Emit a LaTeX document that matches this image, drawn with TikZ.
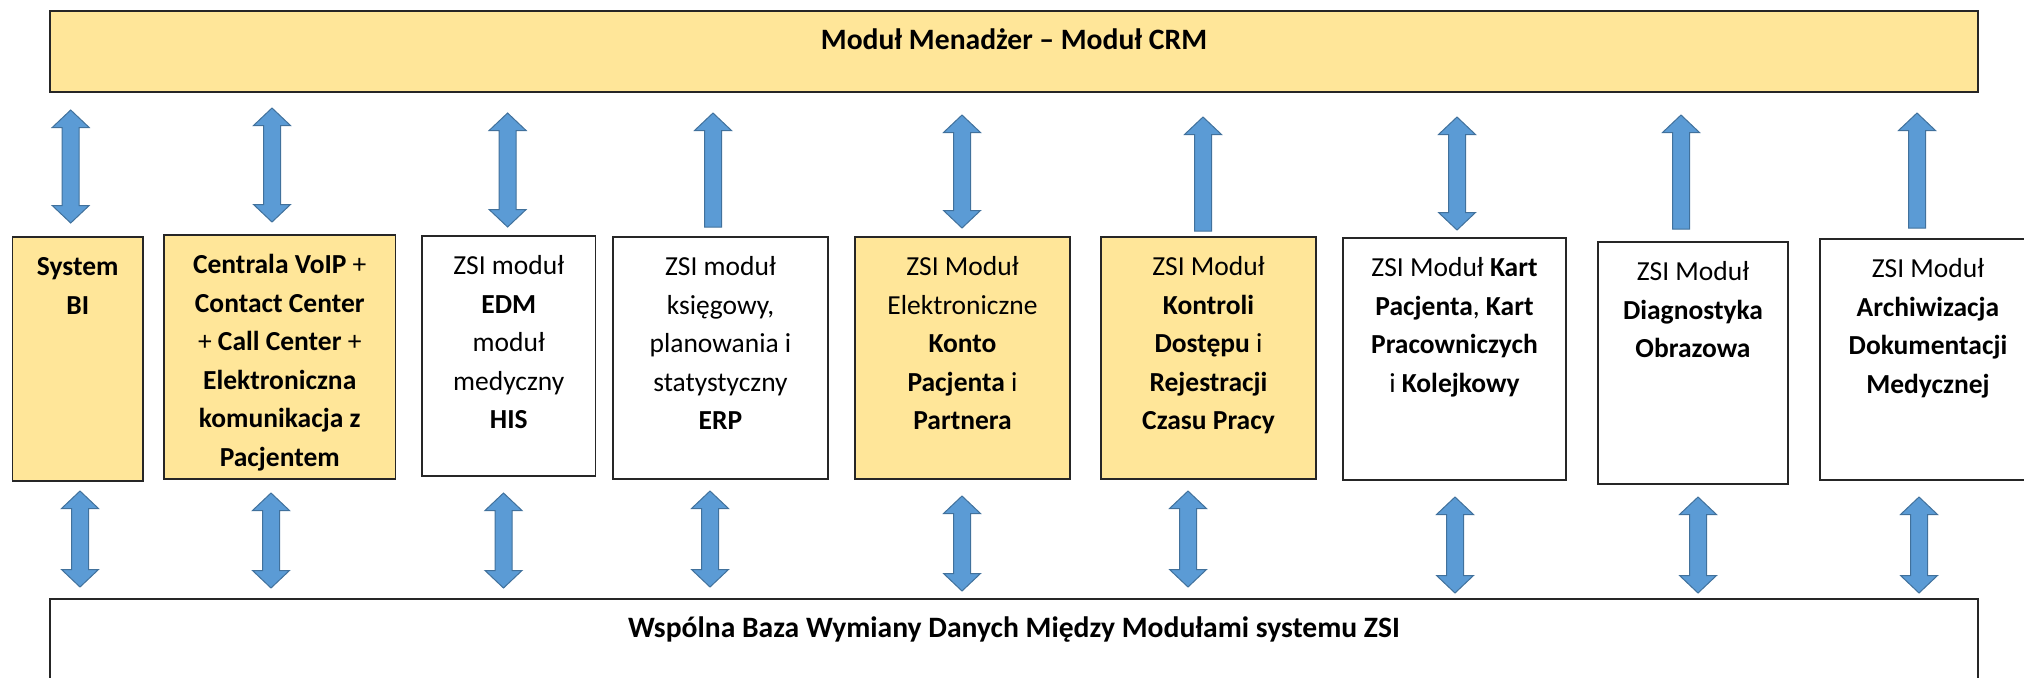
\documentclass[tikz,border=0pt]{standalone}
\usepackage{fontspec}
\setmainfont{Carlito}
\usetikzlibrary{calc}
\definecolor{boxyellow}{HTML}{FFE699}
\definecolor{arrowfill}{HTML}{5B9BD5}
\definecolor{arrowline}{HTML}{41719C}
\newcommand\arrHW{9.25pt}
\newcommand\arrSW{4.25pt}
\newcommand\arrHL{8.75pt}
\newcommand\dblarrow[2]{%
  \draw[blockarrow] let \p1=(#1), \p2=(#2) in
    (\x1,\y1) -- (\x1+\arrHW,\y1-\arrHL) -- (\x1+\arrSW,\y1-\arrHL) -- (\x1+\arrSW,\y2+\arrHL)
    -- (\x1+\arrHW,\y2+\arrHL) -- (\x1,\y2) -- (\x1-\arrHW,\y2+\arrHL) -- (\x1-\arrSW,\y2+\arrHL)
    -- (\x1-\arrSW,\y1-\arrHL) -- (\x1-\arrHW,\y1-\arrHL) -- cycle;}
\newcommand\uparrowblk[2]{%
  \draw[blockarrow] let \p1=(#1), \p2=(#2) in
    (\x1,\y1) -- (\x1+\arrHW,\y1-\arrHL) -- (\x1+\arrSW,\y1-\arrHL) -- (\x1+\arrSW,\y2)
    -- (\x1-\arrSW,\y2) -- (\x1-\arrSW,\y1-\arrHL) -- (\x1-\arrHW,\y1-\arrHL) -- cycle;}
\tikzset{
  box/.style={draw=black!85, line width=0.7pt, rectangle, inner sep=0pt, outer sep=0pt, anchor=north west},
  ybox/.style={box, fill=boxyellow},
  wbox/.style={box, fill=white},
  lbl/.style={anchor=north, align=center, inner sep=0pt, font=\fontsize{13.75pt}{19.25pt}\selectfont},
  barlbl/.style={lbl, font=\fontsize{14.8pt}{19.25pt}\selectfont},
  blockarrow/.style={fill=arrowfill, draw=arrowline, line width=0.5pt, line join=miter},
}
\begin{document}
\begin{tikzpicture}[x=0.5pt, y=-0.5pt]
\useasboundingbox (0,0) rectangle (2024,677);
\clip (0,0) rectangle (2024,677);

% top and bottom bars
\node[ybox, minimum width={1928*0.5pt}, minimum height={81*0.5pt}] (top) at (50,11) {};
\node[wbox, minimum width={1928*0.5pt}, minimum height={140*0.5pt}] (bot) at (50,599) {};
\node[barlbl] (ttop) at ($(top.north)+(0,11.5)$) {\strut\textbf{Moduł Menadżer – Moduł CRM}};
\node[barlbl] (tbot) at ($(bot.north)+(0,11.5)$) {\strut\textbf{Wspólna Baza Wymiany Danych Między Modułami systemu ZSI}};

% module boxes
\node[ybox, minimum width={130.5*0.5pt}, minimum height={244*0.5pt}] (b1) at (12.5,237) {};
\node[ybox, minimum width={231.5*0.5pt}, minimum height={244*0.5pt}] (b2) at (164,235) {};
\node[wbox, minimum width={173.5*0.5pt}, minimum height={240*0.5pt}] (b3) at (422,236) {};
\node[wbox, minimum width={215*0.5pt}, minimum height={242*0.5pt}] (b4) at (613,237) {};
\node[ybox, minimum width={215*0.5pt}, minimum height={242*0.5pt}] (b5) at (855,237) {};
\node[ybox, minimum width={215*0.5pt}, minimum height={242*0.5pt}] (b6) at (1101,237) {};
\node[wbox, minimum width={223*0.5pt}, minimum height={242*0.5pt}] (b7) at (1343,238) {};
\node[wbox, minimum width={190*0.5pt}, minimum height={242*0.5pt}] (b8) at (1598,242) {};
\node[wbox, minimum width={216*0.5pt}, minimum height={241*0.5pt}] (b9) at (1820,239) {};

\node[lbl] (t1) at ($(b1.north)+(0,11.5)$) {\strut\textbf{System}\\\textbf{BI}};
\node[lbl] (t2) at ($(b2.north)+(0,11.5)$) {\strut\textbf{Centrala VoIP} +\\\textbf{Contact Center}\\+ \textbf{Call Center} +\\\textbf{Elektroniczna}\\\textbf{komunikacja z}\\\textbf{Pacjentem}};
\node[lbl] (t3) at ($(b3.north)+(0,11.5)$) {\strut ZSI moduł\\\textbf{EDM}\\moduł\\medyczny\\\textbf{HIS}};
\node[lbl] (t4) at ($(b4.north)+(0,11.5)$) {\strut ZSI moduł\\księgowy,\\planowania i\\statystyczny\\\textbf{ERP}};
\node[lbl] (t5) at ($(b5.north)+(0,11.5)$) {\strut ZSI Moduł\\Elektroniczne\\\textbf{Konto}\\\textbf{Pacjenta} i\\\textbf{Partnera}};
\node[lbl] (t6) at ($(b6.north)+(0,11.5)$) {\strut ZSI Moduł\\\textbf{Kontroli}\\\textbf{Dostępu} i\\\textbf{Rejestracji}\\\textbf{Czasu Pracy}};
\node[lbl] (t7) at ($(b7.north)+(0,11.5)$) {\strut ZSI Moduł \textbf{Kart}\\\textbf{Pacjenta}, \textbf{Kart}\\\textbf{Pracowniczych}\\i \textbf{Kolejkowy}};
\node[lbl] (t8) at ($(b8.north)+(0,11.5)$) {\strut ZSI Moduł\\\textbf{Diagnostyka}\\\textbf{Obrazowa}};
\node[lbl] (t9) at ($(b9.north)+(0,11.5)$) {\strut ZSI Moduł\\\textbf{Archiwizacja}\\\textbf{Dokumentacji}\\\textbf{Medycznej}};

% upper arrow end points
\coordinate (u1a) at (70.7,110);  \coordinate (u1b) at (70.7,223);
\coordinate (u2a) at (272,108);   \coordinate (u2b) at (272,222);
\coordinate (u3a) at (507.6,113); \coordinate (u3b) at (507.6,227);
\coordinate (u4a) at (713,113);   \coordinate (u4b) at (713,227);
\coordinate (u5a) at (962,115);   \coordinate (u5b) at (962,228);
\coordinate (u6a) at (1203,117);  \coordinate (u6b) at (1203,231);
\coordinate (u7a) at (1457,117);  \coordinate (u7b) at (1457,230);
\coordinate (u8a) at (1681,115);  \coordinate (u8b) at (1681,229);
\coordinate (u9a) at (1917,113);  \coordinate (u9b) at (1917,228);
% lower arrow end points
\coordinate (d1a) at (80,491);    \coordinate (d1b) at (80,587);
\coordinate (d2a) at (271,493);   \coordinate (d2b) at (271,588);
\coordinate (d3a) at (503.5,493); \coordinate (d3b) at (503.5,588);
\coordinate (d4a) at (710,491);   \coordinate (d4b) at (710,587);
\coordinate (d5a) at (962,496);   \coordinate (d5b) at (962,591);
\coordinate (d6a) at (1188,491);  \coordinate (d6b) at (1188,587);
\coordinate (d7a) at (1455,497);  \coordinate (d7b) at (1455,593);
\coordinate (d8a) at (1698,497);  \coordinate (d8b) at (1698,593);
\coordinate (d9a) at (1919,497);  \coordinate (d9b) at (1919,593);

\dblarrow{u1a}{u1b}
\dblarrow{u2a}{u2b}
\dblarrow{u3a}{u3b}
\uparrowblk{u4a}{u4b}
\dblarrow{u5a}{u5b}
\uparrowblk{u6a}{u6b}
\dblarrow{u7a}{u7b}
\uparrowblk{u8a}{u8b}
\uparrowblk{u9a}{u9b}

\dblarrow{d1a}{d1b}
\dblarrow{d2a}{d2b}
\dblarrow{d3a}{d3b}
\dblarrow{d4a}{d4b}
\dblarrow{d5a}{d5b}
\dblarrow{d6a}{d6b}
\dblarrow{d7a}{d7b}
\dblarrow{d8a}{d8b}
\dblarrow{d9a}{d9b}
\end{tikzpicture}
\end{document}
